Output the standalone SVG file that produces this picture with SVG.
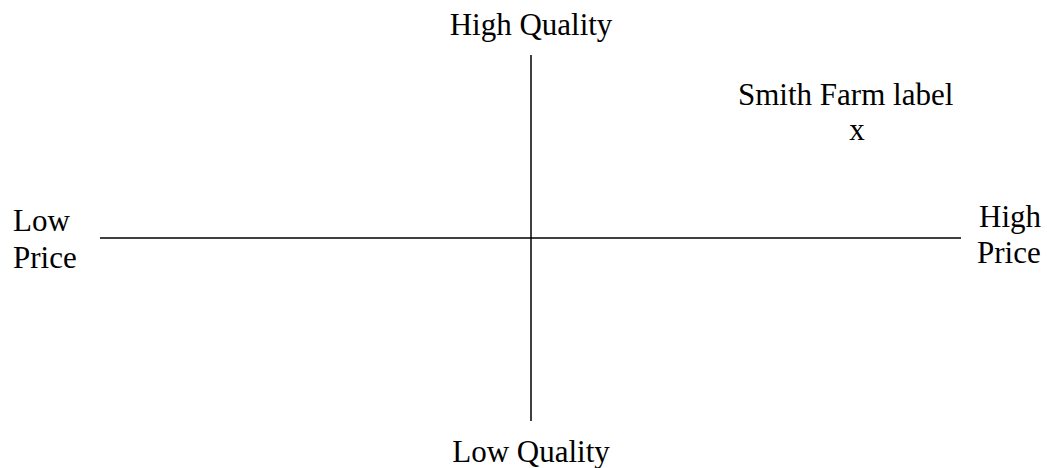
<svg xmlns="http://www.w3.org/2000/svg" width="1047" height="468" viewBox="0 0 1047 468">
<style>
text { font-family: "Liberation Serif", "Times New Roman", serif; font-size: 31px; fill: #000; }
.axis { stroke: #000; stroke-width: 1.5; fill: none; }
</style>
<rect width="1047" height="468" fill="#fff"/>
<g id="connectors">
<line class="axis" x1="531" y1="55" x2="531" y2="421"/>
<line class="axis" x1="100" y1="238" x2="961" y2="238"/>
</g>
<g id="high-quality"><text x="531" y="35" text-anchor="middle">High Quality</text></g>
<g id="low-quality"><text x="531" y="462" text-anchor="middle">Low Quality</text></g>
<g id="low-price"><text x="13" y="231">Low</text><text x="13" y="268">Price</text></g>
<g id="high-price"><text x="979" y="227">High</text><text x="977" y="263">Price</text></g>
<g id="smith-farm"><text x="738" y="105">Smith Farm label</text><text x="857" y="140" text-anchor="middle">x</text></g>
</svg>
